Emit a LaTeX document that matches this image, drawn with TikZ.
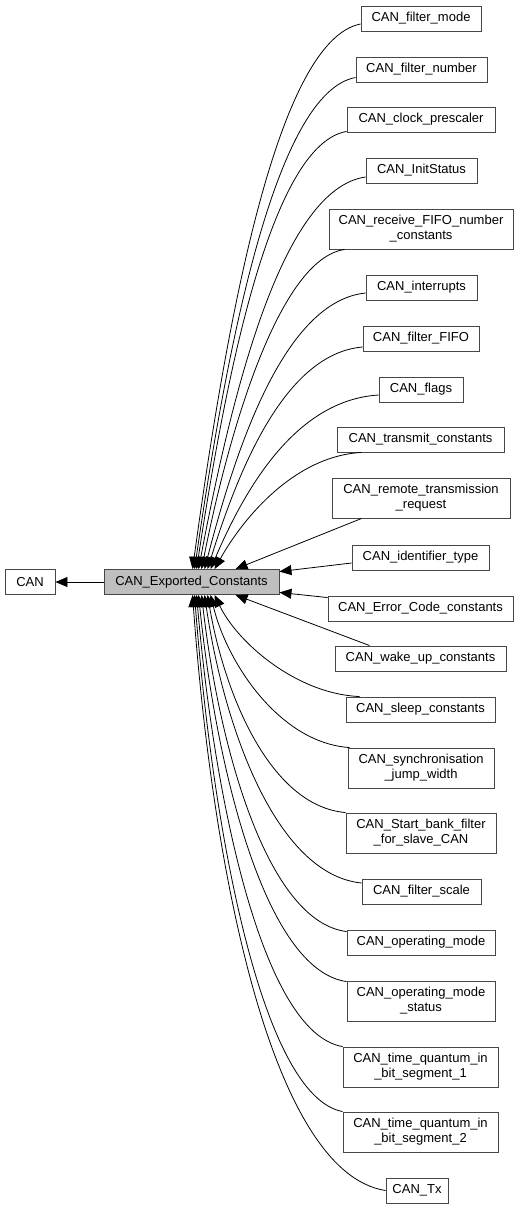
\documentclass[tikz,border=0pt]{standalone}
\usepackage{fontspec}
\setmainfont{Liberation Sans}
\usetikzlibrary{arrows.meta,calc}
\newcommand{\edgeC}[4]{\draw[arr] let \p1=(#1), \p2=(#2) in (\p1) .. controls ({\x1-#3*(\x1-\x2)},{\y1+0.03*(\y2-\y1)}) and ({\x2+#4*(\x1-\x2)},{\y2-0.45*(\y2-\y1)}) .. (\p2);}
\begin{document}
\begin{tikzpicture}[x=1pt,y=-1pt,
  box/.style={draw=black!72, line width=0.9pt, fill=white, inner sep=0pt, font=\fontsize{13}{15}\selectfont, align=center},
  arr/.style={draw=black, line width=0.8pt, -{Triangle[length=12pt,width=10pt]}}]
\useasboundingbox (0,0) rectangle (520,1209);
% central nodes
\node[box, minimum width=50pt, minimum height=25pt] (can) at (30,582) {CAN};
\node[box, fill=black!25, minimum width=175pt, minimum height=25pt] (cec) at (191.5,582) {CAN\_Exported\_Constants};
% right column
\node[box, minimum width=120pt, minimum height=25pt] (fm) at (421,18.5) {CAN\_filter\_mode};
\node[box, minimum width=131pt, minimum height=25pt] (fn) at (421.5,69.5) {CAN\_filter\_number};
\node[box, minimum width=148pt, minimum height=25pt] (cp) at (421,119.5) {CAN\_clock\_prescaler};
\node[box, minimum width=111pt, minimum height=25pt] (is) at (421.5,170.5) {CAN\_InitStatus};
\node[box, minimum width=184pt, minimum height=40pt] (rf) at (421,229) {CAN\_receive\_FIFO\_number\\\_constants};
\node[box, minimum width=111pt, minimum height=25pt] (in) at (421.5,287.5) {CAN\_interrupts};
\node[box, minimum width=116pt, minimum height=25pt] (ff) at (421,338.5) {CAN\_filter\_FIFO};
\node[box, minimum width=84pt, minimum height=25pt] (fl) at (421,389.5) {CAN\_flags};
\node[box, minimum width=167pt, minimum height=25pt] (tc) at (420.5,439.5) {CAN\_transmit\_constants};
\node[box, minimum width=178pt, minimum height=40pt] (rt) at (421,498) {CAN\_remote\_transmission\\\_request};
\node[box, minimum width=137pt, minimum height=25pt] (it) at (420.5,557.5) {CAN\_identifier\_type};
\node[box, minimum width=185pt, minimum height=25pt] (ec) at (420.5,608.5) {CAN\_Error\_Code\_constants};
\node[box, minimum width=171pt, minimum height=25pt] (wu) at (420.5,658.5) {CAN\_wake\_up\_constants};
\node[box, minimum width=149pt, minimum height=25pt] (sl) at (420.5,709.5) {CAN\_sleep\_constants};
\node[box, minimum width=146pt, minimum height=40pt] (sj) at (421,768) {CAN\_synchronisation\\\_jump\_width};
\node[box, minimum width=150pt, minimum height=40pt] (sb) at (421,833) {CAN\_Start\_bank\_filter\\\_for\_slave\_CAN};
\node[box, minimum width=119pt, minimum height=25pt] (fs) at (421.5,891.5) {CAN\_filter\_scale};
\node[box, minimum width=148pt, minimum height=25pt] (om) at (421,942.5) {CAN\_operating\_mode};
\node[box, minimum width=148pt, minimum height=40pt] (os) at (421,1001) {CAN\_operating\_mode\\\_status};
\node[box, minimum width=155pt, minimum height=40pt] (t1) at (420.5,1067) {CAN\_time\_quantum\_in\\\_bit\_segment\_1};
\node[box, minimum width=155pt, minimum height=40pt] (t2) at (420.5,1132) {CAN\_time\_quantum\_in\\\_bit\_segment\_2};
\node[box, minimum width=62pt, minimum height=25pt] (tx) at (417,1190.5) {CAN\_Tx};
% edges
\draw[arr] (cec.west) -- (can.east);
% upper group
\edgeC{$(fm.west)+(0,5.5)$}{$(cec.north west)+(89,0)$}{0.5}{0.2}
\edgeC{$(fn.west)+(0,8)$}{$(cec.north west)+(91,0)$}{0.5}{0.2}
\edgeC{$(cp.south west)+(0,-1)$}{$(cec.north west)+(93,0)$}{0.5}{0.2}
\edgeC{$(is.west)+(0,6.5)$}{$(cec.north west)+(95,0)$}{0.5}{0.2}
\edgeC{$(rf.south west)+(16,0)$}{$(cec.north west)+(98,0)$}{0.45}{0.2}
\edgeC{$(in.west)+(0,5.5)$}{$(cec.north west)+(101,0)$}{0.5}{0.2}
\edgeC{$(ff.west)+(0,8.5)$}{$(cec.north west)+(104,0)$}{0.5}{0.2}
\edgeC{$(fl.west)+(0,5.5)$}{$(cec.north west)+(107,0)$}{0.5}{0.2}
\edgeC{$(tc.south west)+(25,0)$}{$(cec.north west)+(111,0)$}{0.45}{0.2}
\draw[arr] ($(rt.south west)+(30,0)$) -- ($(cec.north west)+(132,0)$);
\draw[arr] ($(it.west)+(0,5.5)$) -- ($(cec.north east)+(0,2.5)$);
\draw[arr] ($(ec.north west)+(0,2)$) -- ($(cec.south east)+(0,-2.5)$);
% lower group
\draw[arr] ($(wu.north west)+(35,0)$) -- ($(cec.south west)+(132,0)$);
\edgeC{$(sl.north west)+(14,0)$}{$(cec.south west)+(111,0)$}{0.45}{0.15}
\edgeC{$(sj.north west)+(2,0)$}{$(cec.south west)+(107,0)$}{0.5}{0.12}
\edgeC{$(sb.north west)$}{$(cec.south west)+(104,0)$}{0.55}{0.12}
\edgeC{$(fs.west)+(0,-8.5)$}{$(cec.south west)+(101,0)$}{0.55}{0.12}
\edgeC{$(om.north west)+(0,2)$}{$(cec.south west)+(98,0)$}{0.55}{0.12}
\edgeC{$(os.north west)+(0,1)$}{$(cec.south west)+(95,0)$}{0.55}{0.12}
\edgeC{$(t1.north west)$}{$(cec.south west)+(93,0)$}{0.55}{0.12}
\edgeC{$(t2.north west)$}{$(cec.south west)+(91,0)$}{0.55}{0.12}
\edgeC{$(tx.west)$}{$(cec.south west)+(89,0)$}{0.6}{0.1}
\end{tikzpicture}
\end{document}
